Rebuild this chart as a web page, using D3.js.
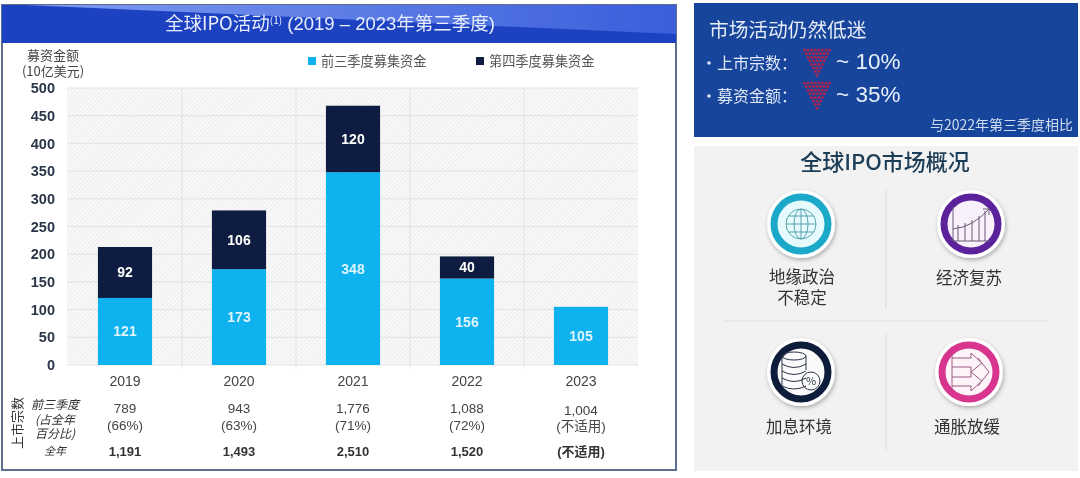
<!DOCTYPE html>
<html><head><meta charset="utf-8">
<script src="https://cdnjs.cloudflare.com/ajax/libs/d3/7.8.5/d3.min.js"></script>
<style>html,body{margin:0;padding:0;background:#fff;overflow:hidden}
text{font-family:"Noto Sans CJK SC","Liberation Sans",sans-serif}
.num{font-family:"Liberation Sans","Noto Sans CJK SC",sans-serif}</style>
</head><body><svg id="c" width="1080" height="478"></svg>
<script>
const years=["2019","2020","2021","2022","2023"];
const firstThree=[121,173,348,156,105];
const fourthQ=[92,106,120,40,0];
const dealCounts=["789","943","1,776","1,088","1,004"];
const dealShares=["(66%)","(63%)","(71%)","(72%)","(不适用)"];
const fullYear=["1,191","1,493","2,510","1,520","(不适用)"];
const yTicks=[0,50,100,150,200,250,300,350,400,450,500];
const legendItems=[["前三季度募集资金","#0fb2ee"],["第四季度募集资金","#0e1f3f"]];
const outlook=[["上市宗数：","~ 10%"],["募资金额：","~ 35%"]];
const drivers=["地缘政治|不稳定","经济复苏","加息环境","通胀放缓"];

const svg=d3.select("#c");
const defs=svg.append("defs");
const hat=defs.append("pattern").attr("id","hatch").attr("width",3).attr("height",3)
  .attr("patternUnits","userSpaceOnUse").attr("patternTransform","rotate(45)");
hat.append("rect").attr("width",3).attr("height",3).attr("fill","#fbfbfb");
hat.append("rect").attr("width",1.2).attr("height",3).attr("fill","#ececec");
const g1=defs.append("linearGradient").attr("id","hl").attr("x1",0).attr("x2",1).attr("y1",0).attr("y2",0);
g1.append("stop").attr("offset",0).attr("stop-color","#7f9bf0");
g1.append("stop").attr("offset",1).attr("stop-color","#3a5edb");
const f=defs.append("filter").attr("id","sh").attr("x","-30%").attr("y","-30%").attr("width","160%").attr("height","160%");
f.append("feDropShadow").attr("dx",1).attr("dy",2).attr("stdDeviation",2).attr("flood-color","#000").attr("flood-opacity",.3);
const sf=defs.append("filter").attr("id","soft");
sf.append("feGaussianBlur").attr("stdDeviation",.35);

const root=svg.append("g").attr("filter","url(#soft)");

// left panel frame
root.append("rect").attr("x",2).attr("y",5).attr("width",674).attr("height",465).attr("fill","#fff").attr("stroke","#5d6d8e").attr("stroke-width",2);
root.append("rect").attr("x",2).attr("y",5).attr("width",674).attr("height",38).attr("fill","#1e42c2");
root.append("path").attr("d","M25 5 L676 5 L676 34 Z").attr("fill","url(#hl)");
const title=root.append("text").attr("x",330).attr("y",30).attr("text-anchor","middle").attr("fill","#e8eefc").attr("font-size",18.5);
title.append("tspan").text("全球IPO活动");
title.append("tspan").attr("font-size",10).attr("dy",-6).text("(1)");
title.append("tspan").attr("dy",6).attr("style",'font-family:"Liberation Sans","Noto Sans CJK SC",sans-serif').text(" (2019 – 2023年第三季度)");

// axis title
const axT=root.append("text").attr("text-anchor","middle").attr("font-size",13).attr("fill","#444");
axT.append("tspan").attr("x",53).attr("y",60).text("募资金额");
axT.append("tspan").attr("x",53).attr("y",76).text("(10亿美元)");

// scales
const x=d3.scaleBand().domain(years).range([68,638]).paddingInner(.525).paddingOuter(.2625);
const y=d3.scaleLinear().domain([0,500]).range([365,88]);

// plot bg
root.append("rect").attr("x",67).attr("y",y(500)).attr("width",571).attr("height",y(0)-y(500)).attr("fill","url(#hatch)");
root.append("g").selectAll("line").data(yTicks).join("line")
  .attr("x1",67).attr("x2",638).attr("y1",d=>y(d)).attr("y2",d=>y(d)).attr("stroke","#dedede").attr("stroke-width",.8);
root.append("g").selectAll("line").data(years.slice(1)).join("line")
  .attr("x1",d=>x(d)-x.step()*x.paddingInner()/2).attr("x2",d=>x(d)-x.step()*x.paddingInner()/2)
  .attr("y1",y(500)).attr("y2",y(0)+4).attr("stroke","#dedede").attr("stroke-width",.8);

// y axis
const yAxis=d3.axisLeft(y).tickValues(yTicks).tickSize(0).tickPadding(12);
const ya=root.append("g").attr("transform","translate(67,0)").call(yAxis);
ya.select(".domain").remove();
ya.selectAll("text").attr("font-size",14.5).attr("font-weight",700).attr("fill","#2b3648").style("font-family",'"Liberation Sans",sans-serif');

// x axis
const xAxis=d3.axisBottom(x).tickSize(0).tickPadding(10);
const xa=root.append("g").attr("transform","translate(0,372)").call(xAxis);
xa.select(".domain").remove();
xa.selectAll("text").attr("font-size",14).attr("fill","#444").style("font-family",'"Liberation Sans",sans-serif').attr("dy",0).attr("y",14);

// bars
root.append("g").selectAll("rect").data(firstThree).join("rect")
  .attr("x",(d,i)=>x(years[i])).attr("width",x.bandwidth()).attr("y",d=>y(d)).attr("height",d=>y(0)-y(d)).attr("fill",legendItems[0][1]);
root.append("g").selectAll("rect").data(fourthQ).join("rect")
  .attr("x",(d,i)=>x(years[i])).attr("width",x.bandwidth())
  .attr("y",(d,i)=>y(firstThree[i]+d)).attr("height",d=>y(0)-y(d)).attr("fill",legendItems[1][1]);
root.append("g").selectAll("text").data(firstThree).join("text")
  .attr("class","num").attr("x",(d,i)=>x(years[i])+x.bandwidth()/2).attr("y",d=>y(d/2)+5)
  .attr("text-anchor","middle").attr("font-size",14).attr("font-weight",700).attr("fill","#dff5fd").text(d=>d);
root.append("g").selectAll("text").data(fourthQ.filter(d=>d>0)).join("text")
  .attr("class","num").attr("x",(d,i)=>x(years[i])+x.bandwidth()/2).attr("y",(d,i)=>y(firstThree[i]+d/2)+5)
  .attr("text-anchor","middle").attr("font-size",14).attr("font-weight",700).attr("fill","#fff").text(d=>d);

// legend
const lx=[308,476];
legendItems.forEach((it,i)=>{
  root.append("rect").attr("x",lx[i]).attr("y",57).attr("width",8).attr("height",8).attr("fill",it[1]);
  root.append("text").attr("x",lx[i]+13).attr("y",66).attr("font-size",13.2).attr("fill","#555").text(it[0]);
});

// table
root.append("text").attr("transform","translate(22,423) rotate(-90)").attr("text-anchor","middle").attr("font-size",13).attr("fill","#333").text("上市宗数");
const rowT=root.append("text").attr("text-anchor","middle").attr("font-size",12).attr("font-style","italic").attr("fill","#333");
[["前三季度",409],["(占全年",424],["百分比)",438],["全年",455]].forEach(([t,yy])=>{
  rowT.append("tspan").attr("x",55).attr("y",yy).attr("font-size",t==="全年"?11:12).text(t);
});
const cx=(d,i)=>x(years[i])+x.bandwidth()/2;
root.append("g").selectAll("text").data(dealCounts).join("text").attr("class","num").attr("x",cx).attr("y",(d,i)=>i===4?415:413).attr("text-anchor","middle").attr("font-size",13.5).attr("fill","#444").text(d=>d);
root.append("g").selectAll("text").data(dealShares).join("text").attr("class","num").attr("x",cx).attr("y",(d,i)=>i===4?431:430).attr("text-anchor","middle").attr("font-size",13.5).attr("fill","#444").text(d=>d);
root.append("g").selectAll("text").data(fullYear).join("text").attr("class","num").attr("x",cx).attr("y",456).attr("text-anchor","middle").attr("font-size",13).attr("font-weight",700).attr("fill","#333").text(d=>d);

// right top panel
root.append("rect").attr("x",694).attr("y",3).attr("width",384).attr("height",134).attr("fill","#17449b");
root.append("text").attr("x",709).attr("y",37).attr("font-size",19.7).attr("fill","#e6edf8").text("市场活动仍然低迷");
outlook.forEach((o,i)=>{
  const yy=[69,102][i];
  root.append("circle").attr("cx",709).attr("cy",yy-6).attr("r",1.8).attr("fill","#dfe8f6");
  root.append("text").attr("x",717).attr("y",yy).attr("font-size",16).attr("fill","#dfe8f6").text(o[0]);
  root.append("text").attr("x",836).attr("y",yy).attr("font-size",22.5).attr("fill","#e9f0fa").style("font-family",'"Liberation Sans",sans-serif').text(o[1]);
  const tx=817, ty=yy-19;
  const dots=[];
  for(let r=0;r<8;r++){const n=8-r;for(let c=0;c<n;c++)dots.push([tx+(c-(n-1)/2)*3.6,ty+r*3.6]);}
  root.append("g").selectAll("circle").data(dots).join("circle").attr("cx",d=>d[0]).attr("cy",d=>d[1]).attr("r",1.5).attr("fill","#a8264f");
});
root.append("text").attr("x",1073).attr("y",130).attr("text-anchor","end").attr("font-size",14).attr("fill","#cfdcf0").text("与2022年第三季度相比");

// right bottom panel
root.append("rect").attr("x",694).attr("y",146).attr("width",384).attr("height",325).attr("fill","#f2f2f2");
root.append("text").attr("x",885).attr("y",170).attr("text-anchor","middle").attr("font-size",22).attr("font-weight",500).attr("fill","#1d3c56").text("全球IPO市场概况");
root.append("line").attr("x1",886).attr("x2",886).attr("y1",190).attr("y2",308).attr("stroke","#d9d9d9");
root.append("line").attr("x1",886).attr("x2",886).attr("y1",334).attr("y2",450).attr("stroke","#d9d9d9");
root.append("line").attr("x1",724).attr("x2",1048).attr("y1",321).attr("y2",321).attr("stroke","#dcdcdc");

const iconC=[[801,224,"#1fa9c9","#e6fbfd"],[971,224,"#5b249c","#f8f0fb"],[801,372,"#0f1d3a","#fafafa"],[969,372,"#d8358f","#fdf3f9"]];
iconC.forEach(([cxx,cy,col,inner])=>{
  const g=root.append("g").attr("transform",`translate(${cxx},${cy})`);
  g.append("circle").attr("r",34).attr("fill","#fff").attr("filter","url(#sh)");
  g.append("circle").attr("r",27).attr("fill",inner).attr("stroke",col).attr("stroke-width",7);
});
// globe
(()=>{const g=root.append("g").attr("transform","translate(801,224)").attr("fill","none").attr("stroke","#4a9aa5").attr("stroke-width",.9);
 g.append("circle").attr("r",15);
 g.append("ellipse").attr("rx",7).attr("ry",15);
 g.append("line").attr("y1",-15).attr("y2",15);
 [-8,0,8].forEach(v=>g.append("line").attr("x1",-Math.sqrt(225-v*v)).attr("x2",Math.sqrt(225-v*v)).attr("y1",v).attr("y2",v));
})();
// growth chart
(()=>{const g=root.append("g").attr("transform","translate(971,224)").attr("fill","none").attr("stroke","#6b5a78").attr("stroke-width",1);
 g.append("path").attr("d","M-18 -17 V17 H19");
 [-13,-6,1,8,14].forEach((v,i)=>g.append("line").attr("x1",v).attr("x2",v).attr("y1",17).attr("y2",[1,-1,-4,-8,-13][i]));
 g.append("path").attr("d","M-18 5 Q2 3 18 -15 M12 -15 H18 V-9");
})();
// coins
(()=>{const g=root.append("g").attr("transform","translate(801,372)").attr("fill","none").attr("stroke","#2b3444").attr("stroke-width",1);
 g.append("ellipse").attr("cx",-7).attr("cy",-16).attr("rx",12).attr("ry",4);
 g.append("path").attr("d","M-19 -16 V14 Q-7 20 5 14 M5 -16 V-2");
 [-8,-1,6].forEach(v=>g.append("path").attr("d",`M-19 ${v} Q-7 ${v+7} 5 ${v}`));
 g.append("circle").attr("cx",10).attr("cy",9).attr("r",9);
 g.append("text").attr("x",10).attr("y",13).attr("text-anchor","middle").attr("font-size",11).attr("fill","#2b3444").attr("stroke","none").text("%");
})();
// arrows
(()=>{const g=root.append("g").attr("transform","translate(969,372)").attr("fill","none").attr("stroke","#9a5d84").attr("stroke-width",1);
 g.append("path").attr("d","M-17 -14 H2 V-19 L13 -9 L2 0 V-5 H-17");
 g.append("path").attr("d","M-17 5 H2 V0 L13 9 L2 19 V14 H-17");
 g.append("path").attr("d","M9 -14 L20 0 L9 14");
 g.append("line").attr("x1",-17).attr("x2",-17).attr("y1",-18).attr("y2",18);
})();
// labels
const labelPos=[[802,283],[969,284],[799,433],[967,433]];
drivers.forEach((d,i)=>{
  const t=root.append("text").attr("text-anchor","middle").attr("font-size",16.5).attr("fill","#333");
  d.split("|").forEach((s,j)=>{
    t.append("tspan").attr("x",labelPos[i][0]).attr("y",labelPos[i][1]+j*21).text(s);
  });
});
</script></body></html>
